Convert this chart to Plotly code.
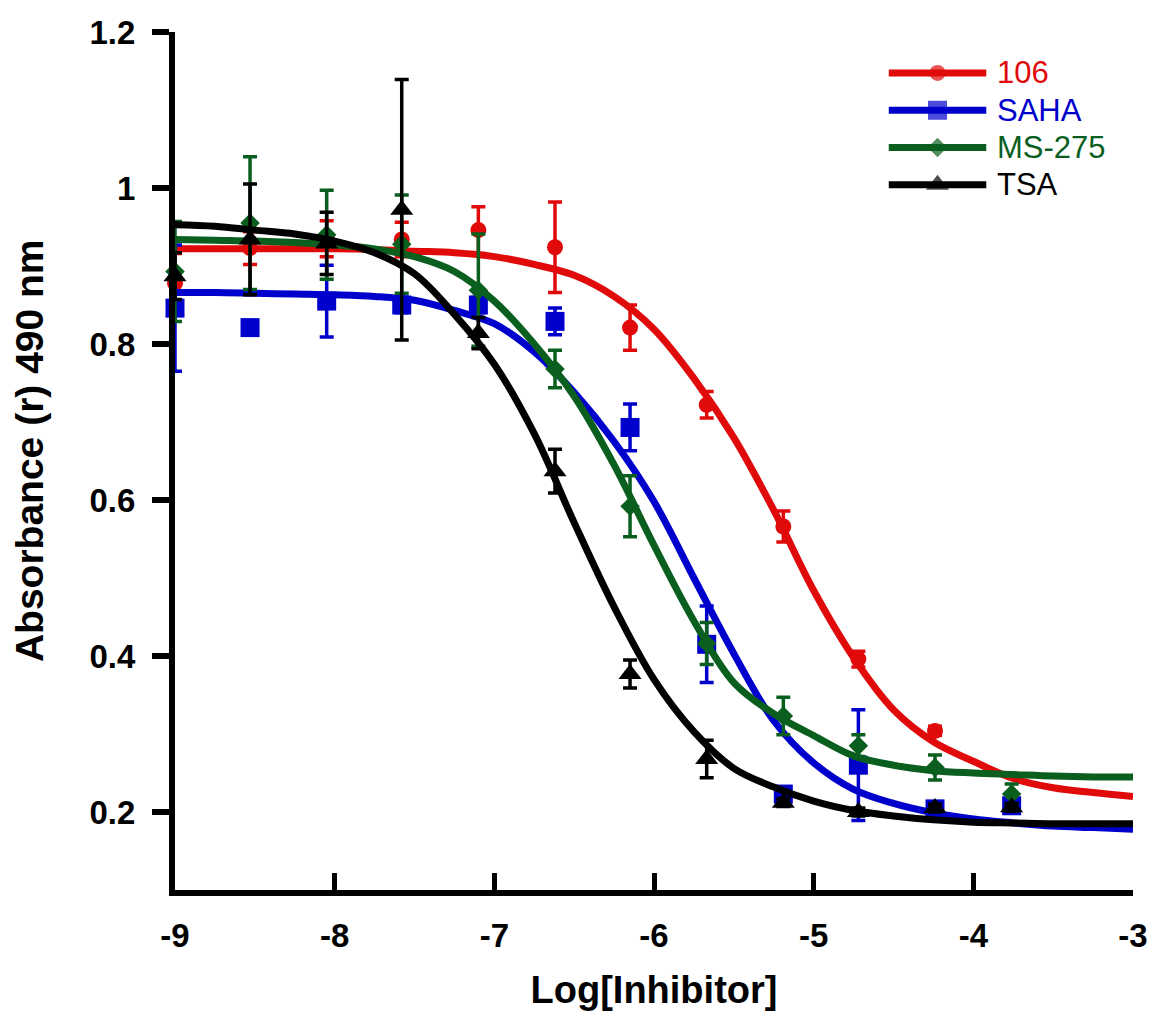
import plotly.graph_objects as go

# ---------------- data ----------------
log_conc = [-9.0, -8.53, -8.05, -7.58, -7.1, -6.62, -6.15, -5.67, -5.19, -4.72, -4.24, -3.76]

y_106 = [0.878, 0.923, 0.935, 0.934, 0.946, 0.924, 0.821, 0.722, 0.566, 0.396, 0.304, None]
e_106 = [0.038, 0.021, 0.023, 0.022, 0.030, 0.058, 0.029, 0.017, 0.020, 0.010, 0.006, 0.0]

y_saha = [0.846, 0.821, 0.855, 0.850, 0.850, 0.829, 0.693, 0.415, 0.223, 0.260, 0.204, 0.208]
e_saha = [0.081, 0.005, 0.046, 0.010, 0.010, 0.017, 0.030, 0.049, 0.005, 0.071, 0.005, 0.005]

y_ms275 = [0.893, 0.955, 0.940, 0.928, 0.869, 0.768, 0.592, 0.416, 0.323, 0.285, 0.257, 0.223]
e_ms275 = [0.064, 0.085, 0.057, 0.063, 0.072, 0.024, 0.039, 0.027, 0.024, 0.014, 0.016, 0.013]

y_tsa = [0.887, 0.934, 0.929, 0.972, 0.814, 0.637, 0.377, 0.268, 0.212, 0.200, 0.205, 0.206]
e_tsa = [0.030, 0.071, 0.040, 0.167, 0.020, 0.028, 0.018, 0.024, 0.005, 0.005, 0.005, 0.005]

# fitted curves at these x positions
curve_x = [-9.0, -8.75, -8.5, -8.25, -8.0, -7.75, -7.5, -7.25, -7.0, -6.75, -6.5, -6.25,
           -6.0, -5.75, -5.5, -5.25, -5.0, -4.75, -4.5, -4.25, -4.0, -3.75, -3.5, -3.25, -3.0]
curve_106 = [0.922, 0.922, 0.922, 0.922, 0.922, 0.921, 0.919, 0.917, 0.912, 0.902, 0.888, 0.861,
             0.819, 0.756, 0.680, 0.587, 0.484, 0.398, 0.331, 0.290, 0.265, 0.243, 0.231, 0.225, 0.220]
curve_saha = [0.866, 0.866, 0.865, 0.864, 0.863, 0.861, 0.856, 0.843, 0.826, 0.790, 0.738, 0.675,
              0.598, 0.500, 0.403, 0.317, 0.263, 0.229, 0.211, 0.199, 0.191, 0.186, 0.182, 0.180, 0.178]
curve_ms275 = [0.934, 0.933, 0.932, 0.930, 0.927, 0.922, 0.912, 0.893, 0.855, 0.800, 0.733, 0.645,
               0.542, 0.445, 0.366, 0.326, 0.298, 0.272, 0.260, 0.253, 0.250, 0.248, 0.246, 0.245, 0.245]
curve_tsa = [0.953, 0.951, 0.946, 0.941, 0.932, 0.917, 0.890, 0.838, 0.774, 0.685, 0.571, 0.463,
             0.370, 0.303, 0.256, 0.232, 0.214, 0.202, 0.195, 0.190, 0.187, 0.186, 0.185, 0.185, 0.185]

names = ["106", "SAHA", "MS-275", "TSA"]
colors = ["#E00A0A", "#0000CC", "#0A5E1E", "#000000"]
symbols = ["circle", "square", "diamond", "triangle-up"]
sizes = [16, 19, 15, 20]

x_ticks = [-9, -8, -7, -6, -5, -4, -3]
y_ticks = [0.2, 0.4, 0.6, 0.8, 1.0, 1.2]

FONT = "Liberation Sans, Arial, sans-serif"

series = [
    (y_106, e_106, curve_106),
    (y_saha, e_saha, curve_saha),
    (y_ms275, e_ms275, curve_ms275),
    (y_tsa, e_tsa, curve_tsa),
]

fig = go.Figure()
for (yv, ev, cv), nm, col, sym, sz in zip(series, names, colors, symbols, sizes):
    fig.add_trace(go.Scatter(
        x=curve_x, y=cv, mode="lines", line=dict(color=col, width=7, shape="spline"),
        showlegend=False, hoverinfo="skip"))
    fig.add_trace(go.Scatter(
        x=log_conc, y=yv, mode="markers", name=nm,
        marker=dict(color=col, symbol=sym, size=sz, line=dict(width=0)),
        error_y=dict(type="data", array=ev, visible=True, color=col, thickness=3.5, width=7),
        showlegend=False, cliponaxis=False))

# custom legend (long line samples like the reference); rows 0..3 on a helper axis pair
for i, (nm, col, sym, sz) in enumerate(zip(names, colors, symbols, sizes)):
    fig.add_trace(go.Scatter(
        x=[0, 0.5, 1], y=[i, i, i], xaxis="x2", yaxis="y2", mode="lines+markers",
        line=dict(color=col, width=7),
        marker=dict(color=col, symbol=sym, size=[0, sz, 0], line=dict(width=0)),
        showlegend=False, hoverinfo="skip", cliponaxis=False))
    fig.add_annotation(x=1, y=i, xref="x2", yref="y2", text=nm, showarrow=False,
                       xanchor="left", yanchor="middle", xshift=8,
                       font=dict(family=FONT, size=31, color=col))

# y-axis title as a rotated annotation
fig.add_annotation(x=-0.152, y=0.512, xref="paper", yref="paper",
                   text="<b>Absorbance (r) 490 nm</b>", textangle=-90, showarrow=False,
                   xanchor="center", yanchor="middle",
                   font=dict(family=FONT, size=39, color="black"))

fig.update_layout(
    width=1153, height=1011,
    margin=dict(l=175, r=20, t=32, b=121, autoexpand=False),
    plot_bgcolor="white", paper_bgcolor="white",
    showlegend=False,
    font=dict(family=FONT, color="black"),
    xaxis=dict(
        range=[-9, -3], tickvals=x_ticks, ticktext=[str(v) for v in x_ticks],
        showline=True, linecolor="black", linewidth=6,
        ticks="inside", ticklen=17, tickwidth=5, tickcolor="black",
        showgrid=False, zeroline=False, automargin=False,
        ticklabelstandoff=11,
        tickfont=dict(family=FONT, size=33, color="black", weight="bold"),
        title=dict(text="<b>Log[Inhibitor]</b>", font=dict(family=FONT, size=38, color="black"),
                   standoff=30),
    ),
    yaxis=dict(
        range=[0.1, 1.2], tickvals=y_ticks,
        showline=True, linecolor="black", linewidth=6,
        ticks="outside", ticklen=17, tickwidth=6, tickcolor="black",
        showgrid=False, zeroline=False, automargin=False,
        ticklabelstandoff=10,
        tickfont=dict(family=FONT, size=33, color="black", weight="bold"),
    ),
    xaxis2=dict(domain=[0.7448, 0.8471], range=[0, 1], visible=False, fixedrange=True,
                anchor="y2"),
    yaxis2=dict(domain=[0.8001, 0.974], range=[3.5, -0.5], visible=False, fixedrange=True,
                anchor="x2"),
)

fig.write_html("out.html", config={"displayModeBar": False},
               post_script="document.body.style.margin='0px';document.body.style.overflow='hidden';")
